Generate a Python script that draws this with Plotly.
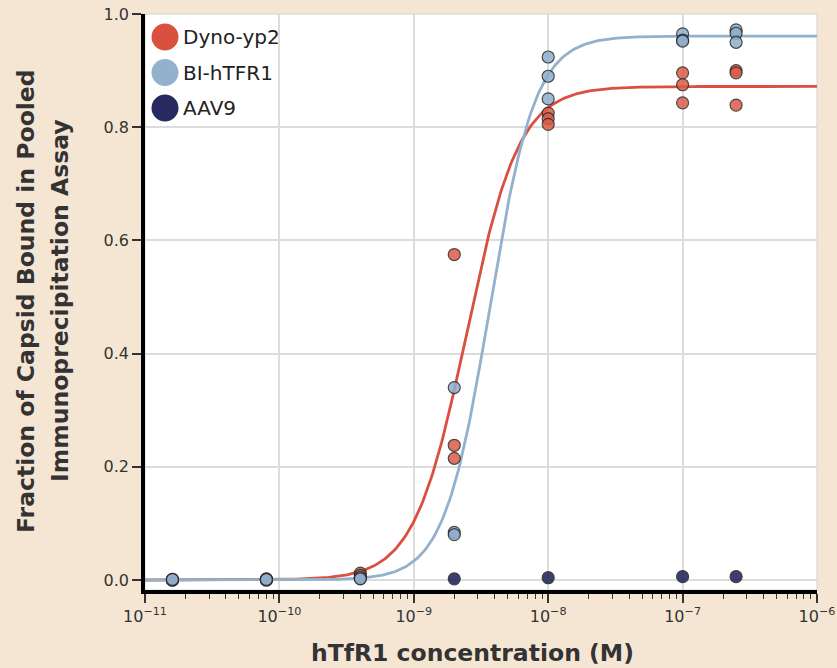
import numpy as np
import plotly.graph_objects as go

# ---------------- data ----------------
conc = [1.6e-11, 8e-11, 4e-10, 2e-9, 1e-8, 1e-7, 2.5e-7]

dyno_x = [1.6e-11, 1.6e-11, 8e-11, 8e-11, 4e-10, 4e-10, 2e-9, 2e-9, 2e-9,
          1e-8, 1e-8, 1e-8, 1e-7, 1e-7, 1e-7, 2.5e-7, 2.5e-7, 2.5e-7]
dyno_y = [0.0, 0.001, 0.0, 0.001, 0.012, 0.008, 0.575, 0.238, 0.215,
          0.825, 0.815, 0.805, 0.896, 0.875, 0.843, 0.900, 0.896, 0.839]

bi_x = [1.6e-11, 1.6e-11, 8e-11, 8e-11, 4e-10, 4e-10, 2e-9, 2e-9, 2e-9,
        1e-8, 1e-8, 1e-8, 1e-7, 1e-7, 1e-7, 2.5e-7, 2.5e-7, 2.5e-7]
bi_y = [0.0, 0.001, 0.0, 0.001, 0.004, 0.002, 0.340, 0.084, 0.080,
        0.924, 0.890, 0.850, 0.965, 0.954, 0.952, 0.972, 0.966, 0.950]

aav9_x = [1.6e-11, 8e-11, 4e-10, 2e-9, 1e-8, 1e-7, 2.5e-7]
aav9_y = [0.0, 0.002, 0.003, 0.002, 0.004, 0.006, 0.006]

# fitted Hill (bottom 0) parameters
dyno_fit = dict(top=0.872, ec50=2.47e-9, hill=2.22)
bi_fit = dict(top=0.961, ec50=3.67e-9, hill=2.56)

series_names = ["Dyno-yp2", "BI-hTFR1", "AAV9"]
x_tickvals = [1e-11, 1e-10, 1e-9, 1e-8, 1e-7, 1e-6]
x_ticktext = ["10<sup>\u221211</sup>", "10<sup>\u221210</sup>", "10<sup>\u22129</sup>",
              "10<sup>\u22128</sup>", "10<sup>\u22127</sup>", "10<sup>\u22126</sup>"]
y_tickvals = [0.0, 0.2, 0.4, 0.6, 0.8, 1.0]

# ---------------- style ----------------
RED = "#d9503f"
RED_PT = "#de5a47"
BLUE = "#93b1cc"
BLUE_PT = "#8eaecd"
NAVY = "#262a60"
BG = "#f5e6d3"
TXT = "#333333"


def hill(x, p):
    x = np.asarray(x)
    return p["top"] * x ** p["hill"] / (x ** p["hill"] + p["ec50"] ** p["hill"])


xs = np.logspace(-11, -6, 400)

fig = go.Figure()

fig.add_trace(go.Scatter(x=xs, y=hill(xs, dyno_fit), mode="lines",
                         line=dict(color=RED, width=2.8), showlegend=False, hoverinfo="skip"))
fig.add_trace(go.Scatter(x=xs, y=hill(xs, bi_fit), mode="lines",
                         line=dict(color=BLUE, width=2.8), showlegend=False, hoverinfo="skip"))

mk = dict(size=12, line=dict(color="#2b2b2b", width=1.2))
fig.add_trace(go.Scatter(x=aav9_x, y=aav9_y, mode="markers", name=series_names[2],
                         marker=dict(color=NAVY, opacity=0.9, **mk), showlegend=False))
fig.add_trace(go.Scatter(x=dyno_x, y=dyno_y, mode="markers", name=series_names[0],
                         marker=dict(color=RED_PT, opacity=0.85, **mk), showlegend=False))
fig.add_trace(go.Scatter(x=bi_x, y=bi_y, mode="markers", name=series_names[1],
                         marker=dict(color=BLUE_PT, opacity=0.85, **mk), showlegend=False))

L, R, T, B = 145, 20, 14, 78
W, H = 837, 668
pw, ph = W - L - R, H - T - B


def px2paper(px, py):
    return (px - L) / pw, (H - B - py) / ph


# custom legend
shapes = []
annotations = []
leg_colors = [RED, BLUE, "#262a60"]
for i, (name, col) in enumerate(zip(series_names, leg_colors)):
    cy = 37 + i * 35.5
    cx = 165
    r = 13.5
    x0, y0 = px2paper(cx - r, cy + r)
    x1, y1 = px2paper(cx + r, cy - r)
    shapes.append(dict(type="circle", xref="paper", yref="paper", x0=x0, y0=y0, x1=x1, y1=y1,
                       fillcolor=col, line=dict(width=0)))
    tx, ty = px2paper(181, cy)
    annotations.append(dict(text=name, xref="paper", yref="paper", x=tx, y=ty,
                            xanchor="left", yanchor="middle", showarrow=False,
                            font=dict(family="DejaVu Sans", size=20, color="#222222")))

# plot frame (light top/right border)
shapes.append(dict(type="rect", xref="paper", yref="paper", x0=0, y0=0, x1=1, y1=1,
                   line=dict(color="#d2d2d2", width=1), layer="below"))

# axis titles
title_font = dict(family="DejaVu Sans", size=23.5, color=TXT, weight="bold")
ax_, ay_ = px2paper(472, 653)
annotations.append(dict(text="hTfR1 concentration (M)", xref="paper", yref="paper",
                        x=ax_, y=ay_, xanchor="center", yanchor="middle",
                        showarrow=False, font=title_font))
for txt, pxx in [("Fraction of Capsid Bound in Pooled", 26),
                 ("Immunoprecipitation Assay", 60)]:
    ax_, ay_ = px2paper(pxx, 301)
    annotations.append(dict(text=txt, xref="paper", yref="paper", x=ax_, y=ay_,
                            xanchor="center", yanchor="middle", textangle=-90,
                            showarrow=False, font=title_font))

fig.update_layout(
    width=W, height=H,
    margin=dict(l=L, r=R, t=T, b=B, autoexpand=False),
    paper_bgcolor=BG, plot_bgcolor="white",
    showlegend=False,
    shapes=shapes, annotations=annotations,
    font=dict(family="DejaVu Sans", size=16, color=TXT),
)

fig.update_xaxes(
    type="log", range=[-11, -6], automargin=False,
    tickvals=x_tickvals, ticktext=x_ticktext,
    ticks="outside", ticklen=9, tickwidth=1.5, tickcolor=TXT,
    showline=True, linecolor="black", linewidth=3.5,
    showgrid=True, gridcolor="#dcdcdc", gridwidth=1.5,
    minor=dict(ticks="outside", ticklen=5, tickwidth=1.2, tickcolor=TXT,
               dtick="D1", showgrid=False),
    tickfont=dict(family="DejaVu Sans", size=16, color=TXT),
    zeroline=False,
)
fig.update_yaxes(
    range=[-0.0177, 1.0], automargin=False,
    tickvals=y_tickvals, tickformat=".1f",
    ticks="outside", ticklen=9, tickwidth=1.5, tickcolor=TXT,
    showline=True, linecolor="black", linewidth=3.5,
    showgrid=True, gridcolor="#dcdcdc", gridwidth=1.5,
    tickfont=dict(family="DejaVu Sans", size=16, color=TXT),
    zeroline=False,
)

fig.write_html("out.html")
